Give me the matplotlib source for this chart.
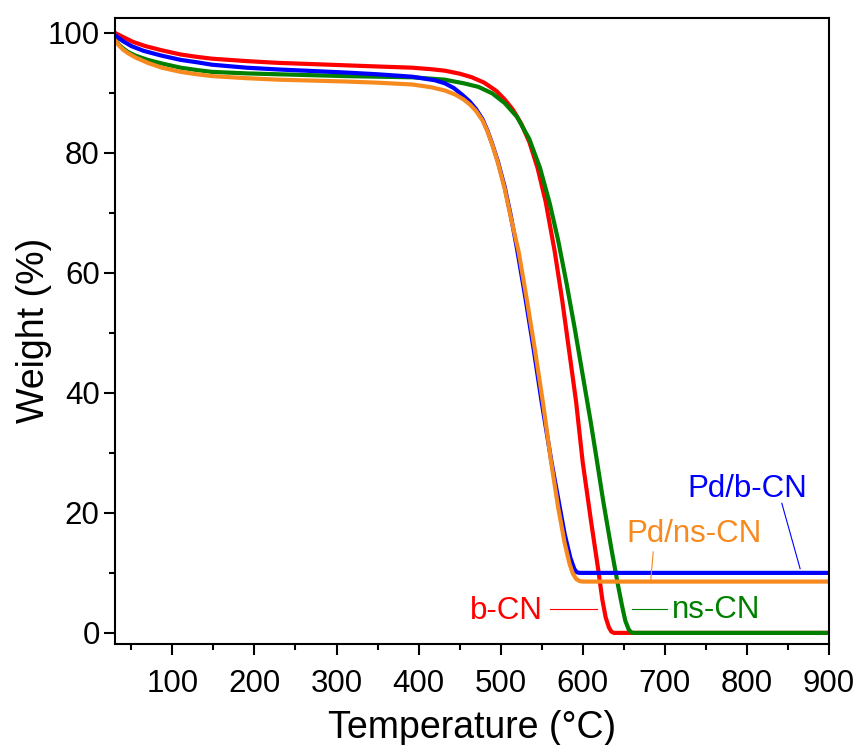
import matplotlib
matplotlib.use("Agg")
import matplotlib.pyplot as plt
from matplotlib.ticker import MultipleLocator

plt.rcParams["font.family"] = ["Liberation Sans", "DejaVu Sans"]

# b-CN (red)
t_bcn = [30, 40, 52, 67, 87, 110, 130, 148, 190, 229, 270, 310, 350, 392, 415,
         432, 450, 465, 480, 495, 505, 515, 525, 535, 545, 555, 566, 575, 585,
         592, 600, 610, 619, 624, 628, 632, 635, 638, 900]
w_bcn = [100.0, 99.3, 98.5, 97.8, 97.1, 96.4, 96.0, 95.7, 95.3, 95.0, 94.8, 94.6,
         94.4, 94.2, 93.95, 93.7, 93.2, 92.6, 91.7, 90.3, 88.9, 87.2, 84.9, 81.8,
         77.5, 71.8, 63.5, 55.5, 45.5, 38.5, 28.5, 18.8, 10.5, 5.5, 2.6, 0.9, 0.2,
         0.0, 0.0]

# ns-CN (green)
t_ns = [30, 35, 40, 46, 55, 70, 87, 110, 130, 148, 190, 229, 270, 310, 350, 392,
        432, 455, 473, 490, 505, 520, 535, 548, 560, 570, 580, 590, 600, 610,
        617, 625, 635, 643, 648, 652, 656, 659, 662, 900]
w_ns = [99.0, 98.0, 97.4, 96.8, 96.2, 95.5, 94.9, 94.2, 93.8, 93.5, 93.25, 93.1,
        92.95, 92.8, 92.7, 92.6, 92.2, 91.6, 91.0, 89.9, 88.3, 86.0, 82.3, 77.5,
        71.5, 65.5, 58.5, 51.0, 43.0, 35.0, 29.0, 22.0, 14.0, 8.0, 4.5, 2.0, 0.6,
        0.1, 0.0, 0.0]

# Pd/b-CN (blue)
t_pdb = [30, 40, 50, 65, 87, 110, 130, 148, 190, 229, 270, 310, 350, 392, 420,
         432, 443, 453, 462, 470, 478, 484, 490, 497, 505, 512, 520, 530, 540,
         550, 562, 570, 578, 585, 590, 593, 596, 900]
w_pdb = [99.6, 98.6, 97.8, 97.0, 96.2, 95.5, 95.1, 94.7, 94.2, 93.9, 93.65, 93.4,
         93.1, 92.7, 92.1, 91.6, 90.8, 89.7, 88.6, 87.3, 85.6, 83.7, 81.4, 78.4,
         74.3, 69.8, 64.0, 56.0, 47.5, 38.5, 28.5, 22.5, 16.5, 12.5, 10.6, 10.1,
         10.0, 10.0]

# Pd/ns-CN (orange)
t_pdns = [30, 35, 40, 46, 55, 70, 87, 110, 130, 148, 190, 229, 270, 310, 350,
          392, 415, 432, 445, 455, 463, 470, 478, 484, 490, 497, 505, 512, 522,
          532, 542, 552, 561, 570, 578, 584, 588, 592, 596, 600, 900]
w_pdns = [98.8, 97.9, 97.2, 96.6, 95.9, 95.0, 94.2, 93.5, 93.1, 92.8, 92.45,
          92.2, 92.05, 91.9, 91.7, 91.4, 90.95, 90.4, 89.7, 88.9, 88.0, 87.0,
          85.4, 83.6, 81.3, 78.2, 74.0, 69.5, 63.5, 55.5, 47.0, 38.0, 29.0, 21.0,
          15.0, 11.5, 9.9, 9.0, 8.65, 8.55, 8.55]

c_red = "#ff0000"
c_green = "#008000"
c_blue = "#0000ff"
c_orange = "#f68a1e"

fig = plt.figure(figsize=(8.58, 7.45), dpi=100)
ax = fig.add_axes([0.134, 0.136, 0.832, 0.840])

ax.plot(t_bcn, w_bcn, color=c_red, lw=3)
ax.plot(t_ns, w_ns, color=c_green, lw=3)
ax.plot(t_pdb, w_pdb, color=c_blue, lw=3)
ax.plot(t_pdns, w_pdns, color=c_orange, lw=3)

# labels with leader lines
ax.text(800, 22.7, "Pd/b-CN", color=c_blue, fontsize=22.5, ha="center", va="baseline")
ax.plot([842.7, 865], [21.6, 10.7], color=c_blue, lw=0.8)
ax.text(736, 15.2, "Pd/ns-CN", color=c_orange, fontsize=22.5, ha="center", va="baseline")
ax.plot([686, 683], [13.5, 8.8], color=c_orange, lw=0.8)
ax.text(506.5, 2.3, "b-CN", color=c_red, fontsize=22.5, ha="center", va="baseline")
ax.plot([560, 617], [4.05, 4.05], color=c_red, lw=0.8)
ax.text(762.5, 2.4, "ns-CN", color=c_green, fontsize=22.5, ha="center", va="baseline")
ax.plot([660, 702.5], [4.05, 4.05], color=c_green, lw=0.8)

ax.set_xlim(30, 900)
ax.set_ylim(-1.8, 102.5)
ax.xaxis.set_major_locator(MultipleLocator(100))
ax.xaxis.set_minor_locator(MultipleLocator(50))
ax.yaxis.set_major_locator(MultipleLocator(20))
ax.yaxis.set_minor_locator(MultipleLocator(10))

for s in ax.spines.values():
    s.set_linewidth(1.5)
ax.tick_params(which="major", direction="out", length=8, width=1.5, labelsize=22.5)
ax.tick_params(which="minor", direction="out", length=4.5, width=1.5)
ax.tick_params(axis="x", which="major", pad=10)
ax.tick_params(axis="y", which="major", pad=3)

ax.set_xlabel("Temperature (\u00b0C)", fontsize=27, labelpad=8)
ax.set_ylabel("Weight (%)", fontsize=27, labelpad=-3)

fig.savefig("out.png", dpi=100)
